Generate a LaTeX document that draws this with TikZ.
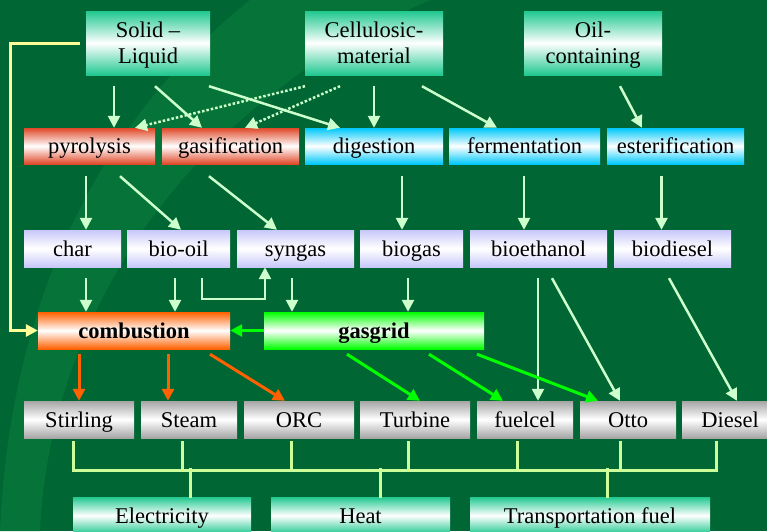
\documentclass[tikz,border=0pt]{standalone}
\usepackage{fontspec}
\setmainfont{Liberation Serif}
\usepackage{xcolor}
\usepackage{tikz}
\definecolor{bggreen}{RGB}{0,102,51}
\definecolor{swooshgreen}{RGB}{6,116,56}
\definecolor{sourcecolor}{RGB}{32,200,144}
\definecolor{thermocolor}{RGB}{224,72,40}
\definecolor{biocolor}{RGB}{0,200,250}
\definecolor{productcolor}{RGB}{200,200,250}
\definecolor{enginecolor}{RGB}{165,165,165}
\definecolor{gridcolor}{RGB}{0,255,0}
\definecolor{combcolor}{RGB}{255,96,0}
\definecolor{mintcolor}{RGB}{204,255,204}
\definecolor{feedcolor}{RGB}{255,255,153}
\definecolor{buscolor}{RGB}{204,255,153}
\usetikzlibrary{arrows.meta}

\begin{document}
\begin{tikzpicture}[x=1pt, y=-1pt,
    box/.style={rectangle, inner sep=0pt, align=center, minimum height=37pt, text height=18pt, text depth=3pt, font=\fontsize{22.5}{26.5}\selectfont},
    source/.style={box, top color=sourcecolor, bottom color=sourcecolor, middle color=white},
    twoline/.style={minimum height=64pt, text height=44.5pt, text depth=3pt},
    thermo/.style={box, top color=thermocolor, bottom color=thermocolor, middle color=white, minimum height=36pt},
    bio/.style={box, top color=biocolor, bottom color=biocolor, middle color=white, minimum height=36pt},
    product/.style={box, top color=productcolor, bottom color=productcolor, middle color=white},
    burner/.style={box, top color=combcolor, bottom color=combcolor, middle color=white, font=\fontsize{22.5}{26.5}\selectfont\bfseries},
    grid/.style={box, top color=gridcolor, bottom color=gridcolor, middle color=white, font=\fontsize{22.5}{26.5}\selectfont\bfseries},
    engine/.style={box, top color=enginecolor, bottom color=enginecolor, middle color=white},
    arr/.style={draw=mintcolor, line width=2.5pt, -{Triangle[length=12pt, width=12pt]}},
    dotline/.style={dash pattern=on 2.5pt off 2pt},
    combarr/.style={draw=combcolor, line width=3pt, -{Triangle[length=12pt, width=12pt]}},
    gridarr/.style={draw=gridcolor, line width=3pt, -{Triangle[length=12pt, width=12pt]}},
    feed/.style={draw=feedcolor, line width=3pt, -{Triangle[length=12pt, width=12pt]}},
    bus/.style={draw=buscolor, line width=3pt, line cap=rect}
]
    \useasboundingbox (0,0) rectangle (767,531);
    \clip (0,0) rectangle (767,531);
    \fill[bggreen] (0,0) rectangle (767,531);
    \fill[swooshgreen] (250,0) .. controls (100,120) and (10,300) .. (0,531) -- (40,531) .. controls (50,320) and (180,110) .. (430,0) -- cycle;

    % Feedstock
    \node[source, twoline, minimum width=124pt] (solid) at (148,43) {Solid –\\Liquid};
    \node[source, twoline, minimum width=138pt] (cellulosic) at (374,43) {Cellulosic-\\material};
    \node[source, twoline, minimum width=138pt] (oil) at (593,43) {Oil-\\containing};

    % Conversion
    \node[thermo, minimum width=131pt] (pyrolysis) at (89.5,146) {pyrolysis};
    \node[thermo, minimum width=137pt] (gasification) at (230.5,146) {gasification};
    \node[bio, minimum width=138pt] (digestion) at (374,146) {digestion};
    \node[bio, minimum width=151pt] (fermentation) at (524.5,146) {fermentation};
    \node[bio, minimum width=137pt] (esterification) at (675.5,146) {esterification};

    % Products
    \node[product, minimum width=97pt] (char) at (72.5,248.5) {char};
    \node[product, minimum width=103pt] (biooil) at (178.5,248.5) {bio-oil};
    \node[product, minimum width=117pt] (syngas) at (295.5,248.5) {syngas};
    \node[product, minimum width=103pt] (biogas) at (411.5,248.5) {biogas};
    \node[product, minimum width=137pt] (bioethanol) at (538.5,248.5) {bioethanol};
    \node[product, minimum width=117pt] (biodiesel) at (672.5,248.5) {biodiesel};

    % Combustion and gas grid
    \node[burner, minimum width=192pt] (combustion) at (134,330.5) {combustion};
    \node[grid, minimum width=220pt] (gasgrid) at (374,330.5) {gasgrid};

    % Engines
    \node[engine, minimum width=110pt] (stirling) at (79,419.5) {Stirling};
    \node[engine, minimum width=96pt] (steam) at (189,419.5) {Steam};
    \node[engine, minimum width=110pt] (orc) at (299,419.5) {ORC};
    \node[engine, minimum width=110pt] (turbine) at (415,419.5) {Turbine};
    \node[engine, minimum width=96pt] (fuelcel) at (525,419.5) {fuelcel};
    \node[engine, minimum width=96pt] (otto) at (628,419.5) {Otto};
    \node[engine, minimum width=96pt] (diesel) at (730,419.5) {Diesel};

    % Uses
    \node[source, minimum width=178pt] (electricity) at (162,515.5) {Electricity};
    \node[source, minimum width=179pt] (heat) at (360.5,515.5) {Heat};
    \node[source, minimum width=240pt] (transport) at (590,515.5) {Transportation fuel};

    % feedstock -> conversion
    \draw[arr] ([xshift=-34pt,yshift=-11pt]solid.south) -- ([xshift=24.5pt]pyrolysis.north);
    \draw[arr] ([xshift=7pt,yshift=-11pt]solid.south) -- ([xshift=-28.5pt]gasification.north);
    \draw[arr] ([xshift=61pt,yshift=-11pt]solid.south) -- ([xshift=-34pt]digestion.north);
    \draw[arr, dotline] ([xshift=-69pt,yshift=-11pt]cellulosic.south) -- ([xshift=45.5pt]pyrolysis.north);
    \draw[arr, dotline] ([xshift=-34pt,yshift=-11pt]cellulosic.south) -- ([xshift=14.5pt]gasification.north);
    \draw[arr] ([yshift=-11pt]cellulosic.south) -- (digestion.north);
    \draw[arr] ([xshift=48pt,yshift=-11pt]cellulosic.south) -- ([xshift=-27.5pt]fermentation.north);
    \draw[arr] ([xshift=27pt,yshift=-11pt]oil.south) -- ([xshift=-33.5pt]esterification.north);

    % conversion -> products
    \draw[arr] ([xshift=-3.5pt,yshift=-12pt]pyrolysis.south) -- ([xshift=13.5pt]char.north);
    \draw[arr] ([xshift=30.5pt,yshift=-12pt]pyrolysis.south) -- ([xshift=2.5pt]biooil.north);
    \draw[arr] ([xshift=-21.5pt,yshift=-12pt]gasification.south) -- ([xshift=-18.5pt]syngas.north);
    \draw[arr] ([xshift=28pt,yshift=-12pt]digestion.south) -- ([xshift=-9.5pt]biogas.north);
    \draw[arr] ([xshift=-0.5pt,yshift=-12pt]fermentation.south) -- ([xshift=-14.5pt]bioethanol.north);
    \draw[arr] ([xshift=-14pt,yshift=-12pt]esterification.south) -- ([xshift=-11pt]biodiesel.north);

    % products -> combustion / gasgrid
    \draw[arr] ([xshift=13.5pt,yshift=-11pt]char.south) -- ([xshift=-48pt]combustion.north);
    \draw[arr] ([xshift=-3.5pt,yshift=-11pt]biooil.south) -- ([xshift=41pt]combustion.north);
    \draw[arr] ([xshift=23.5pt,yshift=-11pt]biooil.south) -- ++(0,21) -| ([xshift=-30.5pt]syngas.south);
    \draw[arr] ([xshift=-3.5pt,yshift=-11pt]syngas.south) -- ([xshift=-82pt]gasgrid.north);
    \draw[arr] ([xshift=-3.5pt,yshift=-11pt]biogas.south) -- ([xshift=34pt]gasgrid.north);
    \draw[gridarr] (gasgrid.west) -- (combustion.east);
    \draw[feed] ([xshift=-6pt]solid.west) -- ++(-69,0) |- (combustion.west);

    % -> engines
    \draw[combarr] ([xshift=-55pt,yshift=-5pt]combustion.south) -- (stirling.north);
    \draw[combarr] ([xshift=34pt,yshift=-5pt]combustion.south) -- ([xshift=-21pt]steam.north);
    \draw[combarr] ([xshift=76pt,yshift=-5pt]combustion.south) -- ([xshift=-14pt]orc.north);
    \draw[arr] ([xshift=-0.5pt,yshift=-11pt]bioethanol.south) -- ([xshift=13pt]fuelcel.north);
    \draw[arr] ([xshift=13.5pt,yshift=-11pt]bioethanol.south) -- ([xshift=-8pt]otto.north);
    \draw[arr] ([xshift=-3.5pt,yshift=-11pt]biodiesel.south) -- ([xshift=7pt]diesel.north);
    \draw[gridarr] ([xshift=-27pt,yshift=-5pt]gasgrid.south) -- ([xshift=5pt]turbine.north);
    \draw[gridarr] ([xshift=55pt,yshift=-5pt]gasgrid.south) -- ([xshift=-22pt]fuelcel.north);
    \draw[gridarr] ([xshift=103pt,yshift=-5pt]gasgrid.south) -- ([xshift=-30pt]otto.north);

    % engines -> uses
    \foreach \engine/\dx in {stirling/-6, steam/-7, orc/-8, turbine/-7, fuelcel/-8, otto/-8, diesel/-14}
        \draw[bus] ([xshift=\dx pt,yshift=-4pt]\engine.south) -- ++(0,28);
    \draw[bus] ([xshift=-6pt,yshift=-32pt]stirling.south) -- ([xshift=-14pt,yshift=-32pt]diesel.south);
    \foreach \use/\dx in {electricity/28, heat/19.5, transport/17.5}
        \draw[bus] ([xshift=\dx pt]\use.north) -- ++(0,-27);
\end{tikzpicture}
\end{document}
